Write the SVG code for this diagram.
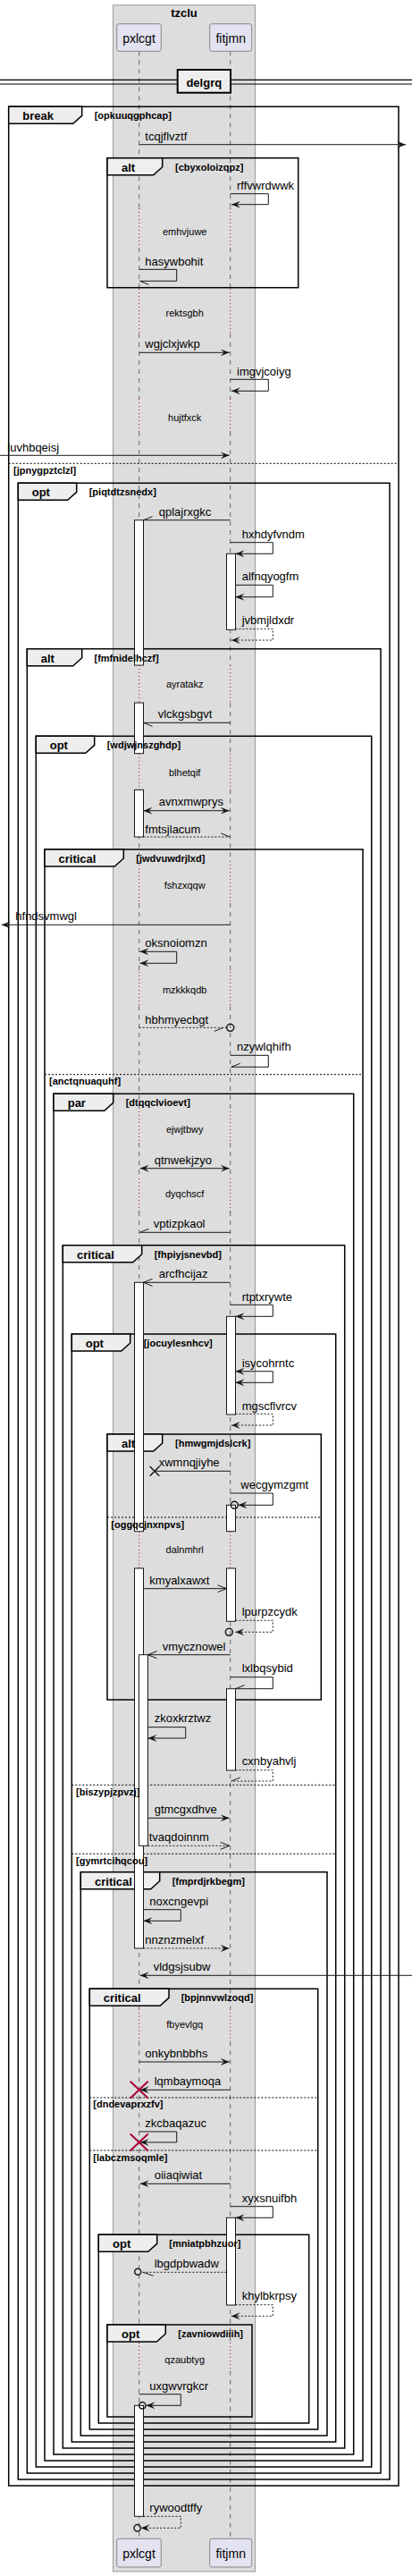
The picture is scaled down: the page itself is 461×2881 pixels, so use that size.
<svg xmlns="http://www.w3.org/2000/svg" width="461" height="2881" viewBox="0 0 461 2881">
<style>
.t{font-family:'Liberation Sans',Arial,sans-serif;font-size:13px;fill:#000}
.b{font-family:'Liberation Sans',Arial,sans-serif;font-size:13px;font-weight:bold;fill:#000}
.g{font-family:'Liberation Sans',Arial,sans-serif;font-size:11px;font-weight:bold;fill:#000}
.d{font-family:'Liberation Sans',Arial,sans-serif;font-size:11px;fill:#000;text-anchor:middle}
.p{font-family:'Liberation Sans',Arial,sans-serif;font-size:14px;fill:#000;text-anchor:middle}
.pbox{fill:#E2E2F0;stroke:#888;stroke-width:1}
.ll{fill:none;stroke:#666;stroke-width:1;stroke-dasharray:5,5}
.dl{fill:none;stroke:#A80036;stroke-width:1;stroke-dasharray:1,3}
.fr{fill:none;stroke:#000;stroke-width:1.5}
.tab{fill:#EEEEEE;stroke:#000;stroke-width:1.5}
.el{fill:none;stroke:#000;stroke-width:1;stroke-dasharray:2,2}
.act{fill:#fff;stroke:#181818;stroke-width:1}
.m{fill:none;stroke:#181818;stroke-width:1}
.dash{stroke-dasharray:2,2}
.x{fill:none;stroke:#181818;stroke-width:1.5}
.rx{fill:none;stroke:#A80036;stroke-width:2}
.c{fill:none;stroke:#181818;stroke-width:1.5}
</style>
<defs>
<marker id="fa" viewBox="0 0 10 8" refX="10" refY="4" markerWidth="10" markerHeight="8" markerUnits="userSpaceOnUse" orient="auto-start-reverse"><path d="M0,0 L10,4 L0,8 L4,4 Z" fill="#181818"/></marker>
<marker id="oa" viewBox="-1 -1 12 10" refX="10" refY="4" markerWidth="12" markerHeight="10" markerUnits="userSpaceOnUse" orient="auto-start-reverse"><path d="M0,0 L10,4 L0,8" fill="none" stroke="#181818"/></marker>
<marker id="h0" viewBox="-1 -1 12 10" refX="10" refY="4" markerWidth="12" markerHeight="10" markerUnits="userSpaceOnUse" orient="auto"><path d="M0,0 L10,4" fill="none" stroke="#181818"/></marker>
<marker id="h8" viewBox="-1 -1 12 10" refX="10" refY="4" markerWidth="12" markerHeight="10" markerUnits="userSpaceOnUse" orient="auto"><path d="M10,4 L0,8" fill="none" stroke="#181818"/></marker>
</defs>
<rect width="461" height="2881" fill="#fff"/>
<g id="box-tzclu">
<rect x="126.5" y="5.7" width="159" height="2870.3" fill="#DDDDDD" stroke="#999" stroke-width="1"/>
<text class="b" x="206" y="19" text-anchor="middle">tzclu</text>
</g>
<g id="lifelines">
<path class="ll" d="M155.7,57.3V233M155.7,277V323M155.7,373V446M155.7,483V744M155.7,786V842.7M155.7,883.3V963M155.7,1010V1087M155.7,1125V1243M155.7,1278V1318M155.7,1355V1712.7M155.7,1754V2246.7M155.7,2283.3V2620M155.7,2651.7V2839.3"/>
<path class="ll" d="M257.7,57.3V233M257.7,277V323M257.7,373V446M257.7,483V744M257.7,786V842.7M257.7,883.3V963M257.7,1010V1087M257.7,1125V1243M257.7,1278V1318M257.7,1355V1712.7M257.7,1754V2246.7M257.7,2283.3V2620M257.7,2651.7V2839.3"/>
<path class="dl" d="M155.7,233V277M155.7,323V373M155.7,446V483M155.7,744V786M155.7,842.7V883.3M155.7,963V1010M155.7,1087V1125M155.7,1243V1278M155.7,1318V1355M155.7,1712.7V1754M155.7,2246.7V2283.3M155.7,2620V2651.7"/>
<path class="dl" d="M257.7,233V277M257.7,323V373M257.7,446V483M257.7,744V786M257.7,842.7V883.3M257.7,963V1010M257.7,1087V1125M257.7,1243V1278M257.7,1318V1355M257.7,1712.7V1754M257.7,2246.7V2283.3M257.7,2620V2651.7"/>
</g>
<g id="pxlcgt">
<rect class="pbox" x="130.7" y="26.7" width="49.6" height="30.6" rx="2.5"/>
<text class="p" x="155.5" y="47.5">pxlcgt</text>
<rect class="pbox" x="130.7" y="2839.3" width="49.6" height="31.7" rx="2.5"/>
<text class="p" x="155.5" y="2861">pxlcgt</text>
</g>
<g id="fitjmn">
<rect class="pbox" x="234.7" y="26.7" width="47" height="30.6" rx="2.5"/>
<text class="p" x="258.2" y="47.5">fitjmn</text>
<rect class="pbox" x="234.7" y="2839.3" width="47" height="31.7" rx="2.5"/>
<text class="p" x="258.2" y="2861">fitjmn</text>
</g>
<g id="divider-delgrq">
<path d="M0,89.3H461M0,94H461" stroke="#000" stroke-width="1.2" fill="none"/>
<rect x="198.7" y="78" width="59.3" height="25.7" fill="#EEEEEE" stroke="#000" stroke-width="2"/>
<text class="b" x="228.3" y="96.7" text-anchor="middle">delgrq</text>
</g>
<g id="frames">
<g id="f-break">
<rect class="fr" x="9.7" y="119.3" width="436.3" height="2660.7"/>
<path class="tab" d="M9.7,119.3H91.7V129.3L81.7,138.3H9.7Z"/>
<line class="el" x1="9.7" y1="518.3" x2="446" y2="518.3"/>
</g>
<g id="f-alt1">
<rect class="fr" x="120" y="176.7" width="213.7" height="145"/>
<path class="tab" d="M120,176.7H181.7V186.7L171.7,195.7H120Z"/>
</g>
<g id="f-opt1">
<rect class="fr" x="20.3" y="540.3" width="415.7" height="2232.7"/>
<path class="tab" d="M20.3,540.3H85.7V550.3L75.7,559.3H20.3Z"/>
</g>
<g id="f-alt2">
<rect class="fr" x="30.3" y="725.7" width="395.7" height="2040.3"/>
<path class="tab" d="M30.3,725.7H91.7V735.7L81.7,744.7H30.3Z"/>
</g>
<g id="f-opt2">
<rect class="fr" x="40.3" y="823.3" width="375.4" height="1935.7"/>
<path class="tab" d="M40.3,823.3H105.7V833.3L95.7,842.3H40.3Z"/>
</g>
<g id="f-crit1">
<rect class="fr" x="50" y="950" width="356" height="1802"/>
<path class="tab" d="M50,950H138.3V960L128.3,969H50Z"/>
<line class="el" x1="50" y1="1201.7" x2="406" y2="1201.7"/>
</g>
<g id="f-par">
<rect class="fr" x="60" y="1223.3" width="335.7" height="1521.7"/>
<path class="tab" d="M60,1223.3H126.7V1233.3L116.7,1242.3H60Z"/>
</g>
<g id="f-crit2">
<rect class="fr" x="70.3" y="1392.7" width="315.4" height="1345.3"/>
<path class="tab" d="M70.3,1392.7H158.7V1402.7L148.7,1411.7H70.3Z"/>
</g>
<g id="f-opt3">
<rect class="fr" x="80.3" y="1492" width="295.4" height="1239"/>
<path class="tab" d="M80.3,1492H145.7V1502L135.7,1511H80.3Z"/>
<line class="el" x1="80.3" y1="1996.3" x2="375.7" y2="1996.3"/>
<line class="el" x1="80.3" y1="2073.3" x2="375.7" y2="2073.3"/>
</g>
<g id="f-alt3">
<rect class="fr" x="120" y="1604" width="239.3" height="297"/>
<path class="tab" d="M120,1604H181.7V1614L171.7,1623H120Z"/>
<line class="el" x1="120" y1="1697" x2="359.3" y2="1697"/>
</g>
<g id="f-crit3">
<rect class="fr" x="90.3" y="2093.7" width="275.7" height="630.3"/>
<path class="tab" d="M90.3,2093.7H178.7V2103.7L168.7,2112.7H90.3Z"/>
</g>
<g id="f-crit4">
<rect class="fr" x="100.3" y="2224.3" width="255.4" height="492.7"/>
<path class="tab" d="M100.3,2224.3H189V2234.3L179,2243.3H100.3Z"/>
<line class="el" x1="100.3" y1="2346" x2="355.7" y2="2346"/>
<line class="el" x1="100.3" y1="2405" x2="355.7" y2="2405"/>
</g>
<g id="f-opt4">
<rect class="fr" x="110.3" y="2499.3" width="235.4" height="210.7"/>
<path class="tab" d="M110.3,2499.3H175.7V2509.3L165.7,2518.3H110.3Z"/>
</g>
<g id="f-opt5">
<rect class="fr" x="120" y="2600" width="162" height="103"/>
<path class="tab" d="M120,2600H185.3V2610L175.3,2619H120Z"/>
</g>
</g>
<g id="activations">
<rect class="act" x="150.5" y="581.7" width="10" height="162.3"/>
<rect class="act" x="150.5" y="786" width="10" height="56.7"/>
<rect class="act" x="150.5" y="883.3" width="10" height="52.7"/>
<rect class="act" x="150.5" y="1434.3" width="10" height="278.4"/>
<rect class="act" x="150.5" y="1754" width="10" height="425"/>
<rect class="act" x="155.5" y="1850.7" width="10" height="213.6"/>
<rect class="act" x="150.5" y="2690.3" width="10" height="124"/>
<rect class="act" x="253.5" y="619.3" width="10" height="85"/>
<rect class="act" x="253.5" y="1472.3" width="10" height="109.7"/>
<rect class="act" x="253.5" y="1683.3" width="10" height="29.4"/>
<rect class="act" x="253.5" y="1754" width="10" height="59.3"/>
<rect class="act" x="253.5" y="1888.7" width="10" height="91.3"/>
<rect class="act" x="253.5" y="2480.3" width="10" height="97.7"/>
</g>
<g id="frame-labels">
<text class="b" x="25.3" y="134.3">break</text><text class="g" x="105.7" y="133.3">[opkuuqgphcap]</text>
<text class="g" x="15" y="529.7">[jpnygpztclzl]</text>
<text class="b" x="136" y="191.7">alt</text><text class="g" x="196" y="190.7">[cbyxoloizqpz]</text>
<text class="b" x="35.7" y="555.3">opt</text><text class="g" x="99.7" y="554.3">[piqtdtzsnedx]</text>
<text class="b" x="45.7" y="740.7">alt</text><text class="g" x="105.5" y="739.7">[fmfnidelhczf]</text>
<text class="b" x="55.7" y="838.3">opt</text><text class="g" x="119.7" y="837.3">[wdjwjnszghdp]</text>
<text class="b" x="65.5" y="965">critical</text><text class="g" x="152.3" y="964">[jwdvuwdrjlxd]</text>
<text class="g" x="55" y="1213.3">[anctqnuaquhf]</text>
<text class="b" x="75.7" y="1238.3">par</text><text class="g" x="140.7" y="1237.3">[dtqqclvioevt]</text>
<text class="b" x="86" y="1407.7">critical</text><text class="g" x="172.7" y="1406.7">[fhpiyjsnevbd]</text>
<text class="b" x="95.7" y="1507">opt</text><text class="g" x="160.7" y="1506">[jocuylesnhcv]</text>
<text class="g" x="85" y="2008.3">[biszypjzpvzj]</text>
<text class="g" x="85" y="2085">[gymrtcihqcou]</text>
<text class="b" x="136" y="1619">alt</text><text class="g" x="196" y="1618">[hmwgmjdslcrk]</text>
<text class="g" x="124.3" y="1708.7">[oggqcjnxnpvs]</text>
<text class="b" x="106" y="2108.7">critical</text><text class="g" x="192.7" y="2107.7">[fmprdjrkbegm]</text>
<text class="b" x="115.7" y="2239.3">critical</text><text class="g" x="202.7" y="2238.3">[bpjnnvwlzoqd]</text>
<text class="g" x="104.3" y="2357.3">[dndevaprxzfv]</text>
<text class="g" x="104.3" y="2416.7">[labczmsoqmle]</text>
<text class="b" x="126" y="2514.3">opt</text><text class="g" x="189.3" y="2513.3">[mniatpbhzuor]</text>
<text class="b" x="136" y="2615">opt</text><text class="g" x="199.3" y="2614">[zavniowdiiih]</text>
</g>
<g id="delays">
<text class="d" x="206.7" y="262.7">emhvjuwe</text>
<text class="d" x="206.7" y="354.3">rektsgbh</text>
<text class="d" x="206.7" y="470.7">hujtfxck</text>
<text class="d" x="206.7" y="769.3">ayratakz</text>
<text class="d" x="206.7" y="867.7">blhetqif</text>
<text class="d" x="206.7" y="994.3">fshzxqqw</text>
<text class="d" x="206.7" y="1110.7">mzkkkqdb</text>
<text class="d" x="206.7" y="1266.7">ejwjtbwy</text>
<text class="d" x="206.7" y="1339.3">dyqchscf</text>
<text class="d" x="206.7" y="1736.7">dalnmhrl</text>
<text class="d" x="206.7" y="2268.3">fbyevlgq</text>
<text class="d" x="206.7" y="2643.3">qzaubtyg</text>
</g>
<g id="connectors">
<path class="m" d="M155.7,161.7H454" marker-end="url(#fa)"/><text class="t" x="162.3" y="156.7">tcqjflvztf</text>
<path class="m" d="M257.7,216.7H300.3V228.7H259" marker-end="url(#fa)"/><text class="t" x="265" y="211.7">rffvwrdwwk</text>
<path class="m" d="M155.7,301.3H197.7V314.3H156.5" marker-end="url(#h0)"/><text class="t" x="162.3" y="296.7">hasywbohit</text>
<path class="m" d="M155.7,394.3H256.7" marker-end="url(#fa)"/><text class="t" x="162.3" y="389">wgjclxjwkp</text>
<path class="m" d="M257.7,424.3H300.3V437.3H259" marker-end="url(#fa)"/><text class="t" x="265" y="420">imgvjcoiyg</text>
<path class="m" d="M0,509.3H256.7" marker-end="url(#fa)"/><text class="t" x="8.3" y="505">luvhbqeisj</text>
<path class="m" d="M257.7,581.7H160.5" marker-end="url(#h8)"/><text class="t" x="177.7" y="576.7">qplajrxgkc</text>
<path class="m" d="M257.7,606.7H305.3V619.3H263.5" marker-end="url(#fa)"/><text class="t" x="270.7" y="601.7">hxhdyfvndm</text>
<path class="m" d="M263.5,654.3H305.3V667.7H263.5" marker-end="url(#fa)"/><text class="t" x="270.7" y="649.3">alfnqyogfm</text>
<path class="m dash" d="M263.5,703.3H305.3V716H258.7" marker-end="url(#fa)"/><text class="t" x="270.7" y="698.3">jvbmjldxdr</text>
<path class="m" d="M257.7,808.3H160.5" marker-end="url(#h0)"/><text class="t" x="176.7" y="803.3">vlckgsbgvt</text>
<path class="m" d="M160.5,906.7H256.7" marker-start="url(#fa)" marker-end="url(#fa)"/><text class="t" x="177.7" y="901">avnxmwprys</text>
<path class="m dash" d="M160.5,936H257.2" marker-end="url(#h0)"/><text class="t" x="162.3" y="931.7">fmtsjlacum</text>
<path class="m" d="M257.7,1034.3H1.7" marker-end="url(#fa)"/><text class="t" x="17.3" y="1029.3">hfndsvmwgl</text>
<path class="m" d="M156.5,1064.3H197.7V1077.3H156.5" marker-start="url(#fa)" marker-end="url(#fa)"/><text class="t" x="162.3" y="1059.3">oksnoiomzn</text>
<path class="m dash" d="M155.7,1149.3H253.7"/><line class="m" x1="240" y1="1153.3" x2="250" y2="1149.3"/><circle class="c" cx="257.7" cy="1149.3" r="4"/><text class="t" x="162.3" y="1145">hbhmyecbgt</text>
<path class="m" d="M257.7,1180.3H300.3V1193.3H258.7" marker-end="url(#h8)"/><text class="t" x="265" y="1175">nzywlqhifh</text>
<path class="m" d="M156.7,1306.7H256.7" marker-start="url(#fa)" marker-end="url(#fa)"/><text class="t" x="172.7" y="1301.7">qtnwekjzyo</text>
<path class="m" d="M257.7,1378.3H156.5" marker-end="url(#h8)"/><text class="t" x="171.7" y="1373.3">vptizpkaol</text>
<path class="m" d="M257.7,1434.3H160.5" marker-end="url(#oa)"/><text class="t" x="177.7" y="1429.3">arcfhcijaz</text>
<path class="m" d="M257.7,1459.3H305.3V1472.3H263.5" marker-end="url(#fa)"/><text class="t" x="270.7" y="1454.7">rtptxrywte</text>
<path class="m" d="M263.5,1533.7H305.3V1546.3H263.5" marker-start="url(#fa)" marker-end="url(#fa)"/><text class="t" x="270.7" y="1528.7">isycohrntc</text>
<path class="m dash" d="M263.5,1581.3H305.3V1594H258.7" marker-end="url(#fa)"/><text class="t" x="270.7" y="1576.7">mgscflvrcv</text>
<path class="m" d="M257.7,1645.3H173"/><path class="x" d="M167.7,1640L178.3,1650.7M167.7,1650.7L178.3,1640"/><text class="t" x="177.7" y="1640">xwmnqjiyhe</text>
<path class="m" d="M257.7,1670H305.3V1683.3H266.5" marker-end="url(#fa)"/><circle class="c" cx="262.3" cy="1683.3" r="4"/><text class="t" x="269.3" y="1665.3">wecgymzgmt</text>
<path class="m" d="M160.5,1776.7H253.5" marker-end="url(#oa)"/><text class="t" x="167.3" y="1771.7">kmyalxawxt</text>
<path class="m dash" d="M263.5,1812.3H305.3V1825.3H263.3" marker-end="url(#fa)"/><circle class="c" cx="256.3" cy="1825.3" r="4"/><text class="t" x="270.7" y="1807.3">lpurpzcydk</text>
<path class="m" d="M257.7,1850.7H165.5" marker-end="url(#oa)"/><text class="t" x="181.7" y="1845.7">vmycznowel</text>
<path class="m" d="M257.7,1875.7H305.3V1888.7H263.5" marker-end="url(#h8)"/><text class="t" x="270.7" y="1870">lxlbqsybid</text>
<path class="m" d="M165.5,1931.7H207.7V1944H165.5" marker-end="url(#fa)"/><text class="t" x="172.7" y="1926">zkoxkrztwz</text>
<path class="m dash" d="M263.5,1979.7H305.3V1992H258.7" marker-end="url(#h8)"/><text class="t" x="270.7" y="1974.3">cxnbyahvlj</text>
<path class="m" d="M165.5,2033.3H256.7" marker-end="url(#fa)"/><text class="t" x="172.7" y="2028.3">gtmcgxdhve</text>
<path class="m dash" d="M165.5,2064.3H256.7" marker-end="url(#oa)"/><text class="t" x="166.7" y="2059.3">tvaqdoinnm</text>
<path class="m" d="M160.5,2135.7H202.3V2148.3H160.5" marker-end="url(#fa)"/><text class="t" x="167.3" y="2130.7">noxcngevpi</text>
<path class="m dash" d="M160.5,2179H256.7" marker-end="url(#fa)"/><text class="t" x="162.3" y="2174">nnznzmelxf</text>
<path class="m" d="M461,2209.3H156.7" marker-end="url(#fa)"/><text class="t" x="171.7" y="2204.3">vldgsjsubw</text>
<path class="m" d="M155.7,2306H256.7" marker-end="url(#fa)"/><text class="t" x="162.3" y="2301">onkybnbbhs</text>
<path class="m" d="M257.7,2337.3H156.7" marker-end="url(#fa)"/><path class="rx" d="M145.7,2327.8L165.7,2346.8M145.7,2346.8L165.7,2327.8"/><text class="t" x="172.7" y="2331.7">lqmbaymoqa</text>
<path class="m" d="M155.7,2384H197.7V2396H156.7" marker-end="url(#fa)"/><path class="rx" d="M145.7,2386.5L165.7,2405.5M145.7,2405.5L165.7,2386.5"/><text class="t" x="162.3" y="2379">zkcbaqazuc</text>
<path class="m" d="M257.7,2442.3H156.7" marker-end="url(#fa)"/><text class="t" x="172.7" y="2437.3">oiiaqiwiat</text>
<path class="m" d="M257.7,2467.7H305.3V2480.3H263.5" marker-end="url(#fa)"/><text class="t" x="270.7" y="2462.7">xyxsnuifbh</text>
<path class="m dash" d="M253.5,2541.3H158"/><line class="m" x1="160" y1="2541.3" x2="171.7" y2="2545.3"/><circle class="c" cx="154.2" cy="2540.8" r="3.5"/><text class="t" x="172.7" y="2536">lbgdpbwadw</text>
<path class="m dash" d="M263.5,2577.7H305.3V2590.3H258.7" marker-end="url(#fa)"/><text class="t" x="270.7" y="2571.7">khylbkrpsy</text>
<path class="m" d="M155.7,2677.7H202.3V2690.3H163.5" marker-end="url(#fa)"/><circle class="c" cx="159.3" cy="2690.3" r="3.7"/><text class="t" x="167.3" y="2672.7">uxgwvrgkcr</text>
<path class="m dash" d="M160.5,2814.3H202.3V2827.3H157.7" marker-end="url(#fa)"/><circle class="c" cx="153.7" cy="2827.3" r="3.7"/><text class="t" x="167.3" y="2809.3">rywoodtffy</text>
</g>
</svg>
